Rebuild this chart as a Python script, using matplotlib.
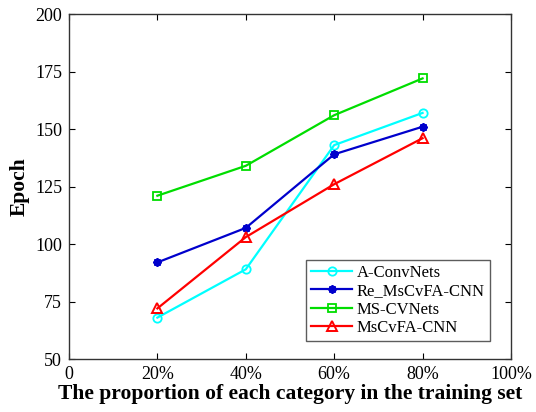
import matplotlib
matplotlib.use("Agg")
import matplotlib.pyplot as plt

plt.rcParams['font.family'] = ['Liberation Serif', 'DejaVu Serif']

x = [20, 40, 60, 80]
a_convnets = [68, 89, 143, 157]
re_mscvfa = [92, 107, 139, 151]
ms_cvnets = [121, 134, 156, 172]
mscvfa = [72, 103, 126, 146]
xticks = [0, 20, 40, 60, 80, 100]
xticklabels = ['0', '20%', '40%', '60%', '80%', '100%']
yticks = [50, 75, 100, 125, 150, 175, 200]

fig = plt.figure(figsize=(5.36, 4.12), dpi=100)
ax = fig.add_axes([0.1287, 0.1286, 0.8246, 0.8374])

ax.plot(x, a_convnets, color='#00ffff', lw=1.6, marker='o', ms=6, mfc='none', mew=1.3, label='A-ConvNets')
ax.plot(x, re_mscvfa, color='#0000cc', lw=1.6, marker=(8, 2, 0), ms=6, mew=1.4, label='Re_MsCvFA-CNN')
ax.plot(x, ms_cvnets, color='#00dd00', lw=1.6, marker='s', ms=5.5, mfc='none', mew=1.3, label='MS-CVNets')
ax.plot(x, mscvfa, color='#ff0000', lw=1.6, marker='^', ms=7, mfc='none', mew=1.4, label='MsCvFA-CNN')

ax.set_xlim(0, 100)
ax.set_ylim(50, 200)
ax.set_xticks(xticks)
ax.set_xticklabels(xticklabels)
ax.set_yticks(yticks)
ax.tick_params(direction='in', top=True, right=True, labelsize=13, length=4, width=0.8, pad=5)
for s in ax.spines.values():
    s.set_linewidth(1.0)
    s.set_color('#333333')

ax.set_xlabel('The proportion of each category in the training set', fontsize=15.5, fontweight='bold', labelpad=1)
ax.set_ylabel('Epoch', fontsize=15.5, fontweight='bold', labelpad=4)

leg = ax.legend(loc='lower right', fontsize=12, frameon=True, fancybox=False, edgecolor='#333333',
                borderpad=0.3, labelspacing=0.15, handlelength=2.45, handletextpad=0.3,
                borderaxespad=0, bbox_to_anchor=(0.9525, 0.0514))
leg.get_frame().set_linewidth(1.0)

fig.savefig('out.png', dpi=100)
